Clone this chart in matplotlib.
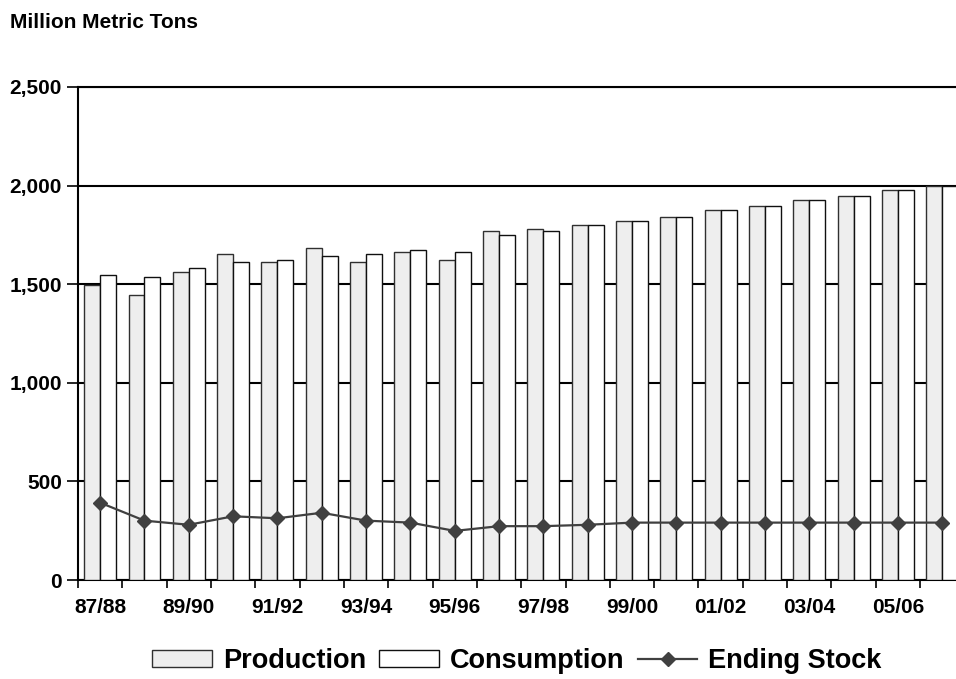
import matplotlib
matplotlib.use("Agg")
import matplotlib.pyplot as plt
import numpy as np
from matplotlib.patches import Patch
from matplotlib.lines import Line2D

years = ["87/88", "88/89", "89/90", "90/91", "91/92", "92/93", "93/94", "94/95",
         "95/96", "96/97", "97/98", "98/99", "99/00", "00/01", "01/02", "02/03",
         "03/04", "04/05", "05/06", "06/07"]
production = [1497, 1445, 1560, 1654, 1612, 1685, 1612, 1664, 1624, 1770,
              1781, 1801, 1822, 1842, 1874, 1896, 1927, 1949, 1979, 2000]
consumption = [1548, 1538, 1582, 1612, 1624, 1644, 1654, 1675, 1664, 1748,
               1770, 1801, 1822, 1842, 1874, 1896, 1927, 1949, 1979, 2000]
ending_stock = [392, 301, 280, 323, 313, 341, 301, 291, 249, 273,
                273, 280, 291, 291, 291, 291, 291, 291, 291, 291]
y_ticks = [0, 500, 1000, 1500, 2000, 2500]

plt.rcParams['font.family'] = ['Liberation Sans', 'DejaVu Sans']
plt.rcParams['font.weight'] = 'bold'

fig = plt.figure(figsize=(9.56, 6.79), dpi=100)
ax = fig.add_axes([78/956, 1 - 580/679, 1 - 78/956, (580 - 87)/679])

x = np.arange(len(years))
w = 0.36
ax.bar(x - w/2, production, width=w, color="#EEEEEE", edgecolor="#303030",
       linewidth=1.0, zorder=3)
ax.bar(x + w/2, consumption, width=w, color="white", edgecolor="#101010",
       linewidth=1.0, zorder=3)
ax.plot(x, ending_stock, color="#404040", linewidth=1.6, marker="D",
        markersize=7, markerfacecolor="#404040", markeredgecolor="#404040", zorder=4)

ax.set_ylim(0, 2500)
ax.set_xlim(-0.5, 19.31)
ax.set_yticks(y_ticks)
ax.set_yticklabels([f"{v:,}" for v in y_ticks], fontsize=15, fontweight='bold')
ax.yaxis.grid(True, color="black", linewidth=1.5, zorder=0)
ax.set_axisbelow(True)

ax.set_xticks(np.arange(-0.5, 19.5, 1.0))
ax.set_xticklabels([])
ax.set_xticks(x[::2], minor=True)
ax.set_xticklabels(years[::2], minor=True, fontsize=15, fontweight='bold')
ax.tick_params(axis='x', which='major', length=6, width=1.2, direction='out')
ax.tick_params(axis='x', which='minor', length=0, pad=13)
ax.tick_params(axis='y', length=8, width=1.2, direction='out', pad=3.5)

ax.spines['right'].set_visible(False)
for s in ['left', 'bottom', 'top']:
    ax.spines[s].set_linewidth(1.5)
    ax.spines[s].set_color('black')

fig.text(10/956, 1 - 22/679, "Million Metric Tons", fontsize=15, fontweight='bold',
         ha='left', va='center')

handles = [Patch(facecolor="#EEEEEE", edgecolor="#303030", linewidth=1.0),
           Patch(facecolor="white", edgecolor="#101010", linewidth=1.0),
           Line2D([0], [0], color="#404040", linewidth=1.6, marker="D",
                  markersize=7, markerfacecolor="#404040")]
fig.legend(handles, ["Production", "Consumption", "Ending Stock"],
           loc="center", bbox_to_anchor=(517/956, 1 - 661/679), ncol=3,
           frameon=False, prop={'size': 19.5, 'weight': 'bold'},
           handlelength=2.2, handleheight=0.6, handletextpad=0.4,
           columnspacing=0.5, borderpad=0)

fig.savefig("out.png", dpi=100)
